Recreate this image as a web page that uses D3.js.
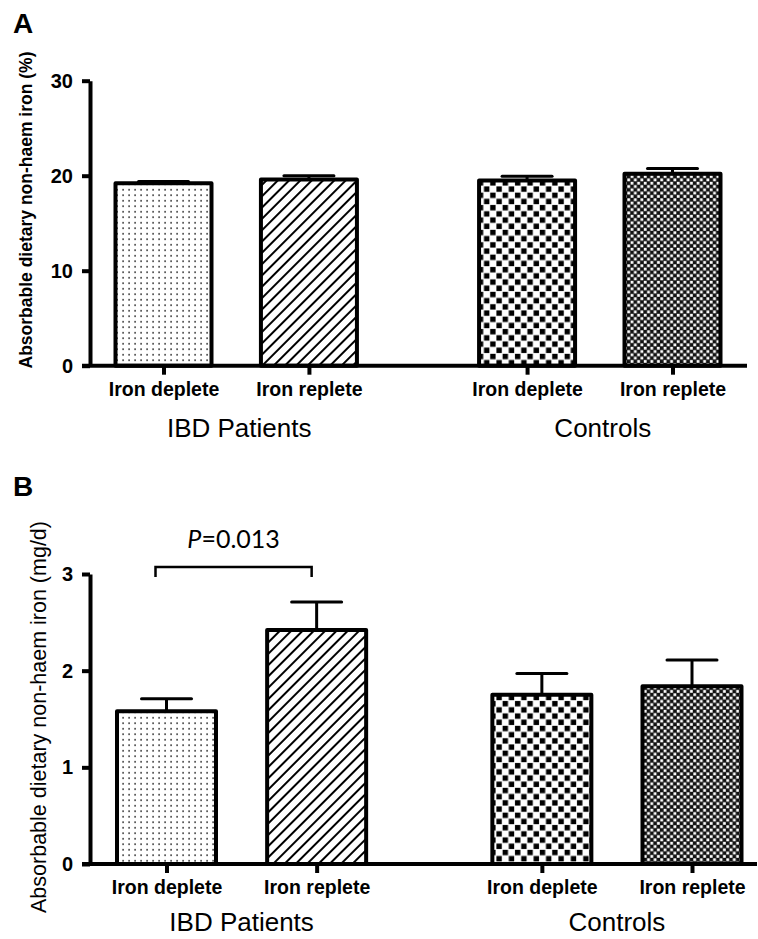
<!DOCTYPE html>
<html>
<head>
<meta charset="utf-8">
<script src="https://cdn.jsdelivr.net/npm/d3@7"></script>
<style>
  body { margin: 0; background: #fff; }
  svg { display: block; font-family: "Liberation Sans", Arial, sans-serif; }
</style>
</head>
<body>
<div id="chart"></div>
<script>
// data
var categories = ["Iron deplete", "Iron replete", "Iron deplete", "Iron replete"];
var groups = ["IBD Patients", "Controls"];
var groupOf = [0, 0, 1, 1];
var pctMean = [19.2, 19.6, 19.5, 20.2];
var pctErr = [0.2, 0.4, 0.45, 0.55];
var mgMean = [1.58, 2.42, 1.75, 1.84];
var mgErr = [0.13, 0.29, 0.22, 0.27];
var pctTicks = [0, 10, 20, 30];
var mgTicks = [0, 1, 2, 3];
var pLabel = "0.013";

var svg = d3.select("#chart").append("svg")
  .attr("width", 758)
  .attr("height", 939);

// fill patterns for the four bars
var defs = svg.append("defs");

var dots = defs.append("pattern").attr("id", "pat0")
  .attr("patternUnits", "userSpaceOnUse").attr("width", 6).attr("height", 5.5);
dots.append("rect").attr("width", 6).attr("height", 5.5).attr("fill", "#fff");
dots.append("rect").attr("x", 2.3).attr("y", 2).attr("width", 1.6).attr("height", 1.5).attr("fill", "#222");

var hatch = defs.append("pattern").attr("id", "pat1")
  .attr("patternUnits", "userSpaceOnUse").attr("width", 8).attr("height", 8)
  .attr("patternTransform", "rotate(45)");
hatch.append("rect").attr("width", 8).attr("height", 8).attr("fill", "#fff");
hatch.append("line").attr("x1", 4).attr("x2", 4).attr("y1", 0).attr("y2", 8)
  .attr("stroke", "#000").attr("stroke-width", 2);

var check = defs.append("pattern").attr("id", "pat2")
  .attr("patternUnits", "userSpaceOnUse").attr("width", 12.4).attr("height", 12.4);
check.append("rect").attr("width", 12.4).attr("height", 12.4).attr("fill", "#fff");
check.append("rect").attr("x", 0.4).attr("y", 0.4).attr("width", 5.4).attr("height", 5.4).attr("fill", "#000");
check.append("rect").attr("x", 6.6).attr("y", 6.6).attr("width", 5.4).attr("height", 5.4).attr("fill", "#000");

var fine = defs.append("pattern").attr("id", "pat3")
  .attr("patternUnits", "userSpaceOnUse").attr("width", 6.6).attr("height", 6.6);
fine.append("rect").attr("width", 6.6).attr("height", 6.6).attr("fill", "#111");
fine.append("rect").attr("x", 0.3).attr("y", 0.3).attr("width", 2.8).attr("height", 2.8).attr("fill", "#fff");
fine.append("rect").attr("x", 3.6).attr("y", 3.6).attr("width", 2.8).attr("height", 2.8).attr("fill", "#fff");

function drawPanel(opt) {
  var g = svg.append("g");
  var y = d3.scaleLinear().domain([opt.ticks[0], opt.ticks[opt.ticks.length - 1]]).range(opt.yRange);
  // slot index: bars of second group sit half a slot further right
  var slot = categories.map(function(c, i) { return i + groupOf[i] * 0.5; });
  var x = d3.scaleLinear().domain([0, 3.5]).range(opt.xRange);
  var y0 = y(0);

  // bars
  g.selectAll("rect.bar")
    .data(opt.mean)
    .enter()
    .append("rect")
    .attr("class", "bar")
    .attr("x", function(d, i) { return x(slot[i]) - opt.barW / 2; })
    .attr("y", function(d) { return y(d); })
    .attr("width", opt.barW)
    .attr("height", function(d) { return y0 - y(d); })
    .attr("fill", function(d, i) { return "url(#pat" + i + ")"; })
    .attr("stroke", "#000")
    .attr("stroke-width", 4)
    .attr("stroke-linejoin", "round");

  // error bars (upper only)
  var err = g.selectAll("g.err")
    .data(opt.mean)
    .enter()
    .append("g")
    .attr("class", "err");
  err.append("line")
    .attr("x1", function(d, i) { return x(slot[i]); })
    .attr("x2", function(d, i) { return x(slot[i]); })
    .attr("y1", function(d) { return y(d); })
    .attr("y2", function(d, i) { return y(d + opt.err[i]); })
    .attr("stroke", "#000").attr("stroke-width", 3);
  err.append("line")
    .attr("x1", function(d, i) { return x(slot[i]) - 25; })
    .attr("x2", function(d, i) { return x(slot[i]) + 25; })
    .attr("y1", function(d, i) { return y(d + opt.err[i]); })
    .attr("y2", function(d, i) { return y(d + opt.err[i]); })
    .attr("stroke", "#000").attr("stroke-width", 3).attr("stroke-linecap", "round");

  // y axis
  var yAxis = g.append("g")
    .attr("transform", "translate(" + opt.axisX + ",0)")
    .call(d3.axisLeft(y).tickValues(opt.ticks).tickFormat(d3.format("d"))
      .tickSize(8).tickSizeOuter(0).tickPadding(9));
  yAxis.select(".domain").attr("stroke-width", 4);
  yAxis.selectAll(".tick line").attr("stroke-width", 4);
  yAxis.selectAll(".tick text")
    .attr("font-size", 20).attr("font-weight", "bold")
    .attr("font-family", "Liberation Sans, Arial, sans-serif")
    .attr("fill", "#000");

  // x axis: line drawn from the left tick to the right end, ticks from the axis
  g.append("line")
    .attr("x1", opt.axisX - 8).attr("x2", opt.xEnd)
    .attr("y1", y0).attr("y2", y0)
    .attr("stroke", "#000").attr("stroke-width", 4);
  var xAxis = g.append("g")
    .attr("transform", "translate(0," + y0 + ")")
    .call(d3.axisBottom(x).tickValues(slot).tickSize(9).tickPadding(7)
      .tickFormat(function(d) { return categories[slot.indexOf(d)]; }));
  xAxis.select(".domain").remove();
  xAxis.selectAll(".tick line").attr("stroke-width", 4);
  xAxis.selectAll(".tick text")
    .attr("font-size", 19.5).attr("font-weight", "bold")
    .attr("font-family", "Liberation Sans, Arial, sans-serif")
    .attr("fill", "#000");

  // group labels
  groups.forEach(function(name, k) {
    var xs = slot.filter(function(s, i) { return groupOf[i] === k; });
    g.append("text")
      .attr("x", x(d3.mean(xs)) + opt.groupShift)
      .attr("y", opt.groupY)
      .attr("text-anchor", "middle")
      .attr("font-size", 26)
      .text(name);
  });

  // y title
  g.append("text")
    .attr("transform", "translate(" + opt.titleX + "," + opt.titleY + ") rotate(-90)")
    .attr("text-anchor", "middle")
    .attr("font-size", opt.titleSize)
    .attr("font-weight", opt.titleWeight)
    .text(opt.title);

  // panel letter
  g.append("text")
    .attr("x", 13).attr("y", opt.letterY)
    .attr("font-size", 28).attr("font-weight", "bold")
    .text(opt.letter);

  return {x: x, y: y, slot: slot};
}

drawPanel({
  letter: "A", letterY: 33,
  mean: pctMean, err: pctErr, ticks: pctTicks,
  yRange: [365.7, 80.7], xRange: [163.5, 672.5], axisX: 90, xEnd: 747,
  barW: 96, groupY: 437, groupShift: 3,
  title: "Absorbable dietary non-haem iron (%)", titleX: 32, titleY: 210,
  titleSize: 17.5, titleWeight: "bold"
});

var pb = drawPanel({
  letter: "B", letterY: 496,
  mean: mgMean, err: mgErr, ticks: mgTicks,
  yRange: [864, 574], xRange: [166.5, 692], axisX: 90, xEnd: 757,
  barW: 99, groupY: 931, groupShift: 0,
  title: "Absorbable dietary non-haem iron (mg/d)", titleX: 46, titleY: 717,
  titleSize: 21.5, titleWeight: "normal"
});

// significance bracket between the IBD bars
var bx1 = pb.x(pb.slot[0]) - 11, bx2 = pb.x(pb.slot[1]) - 5;
svg.append("path")
  .attr("d", "M" + bx1 + ",577V567H" + bx2 + "V577")
  .attr("fill", "none").attr("stroke", "#000").attr("stroke-width", 2.5);
var pt = svg.append("text")
  .attr("x", (bx1 + bx2) / 2)
  .attr("y", 548)
  .attr("text-anchor", "middle")
  .attr("font-family", "Lato, 'Open Sans', sans-serif")
  .attr("font-size", 25);
pt.append("tspan").attr("font-style", "italic").text("P");
pt.append("tspan").text("=" + pLabel);
</script>
</body>
</html>
